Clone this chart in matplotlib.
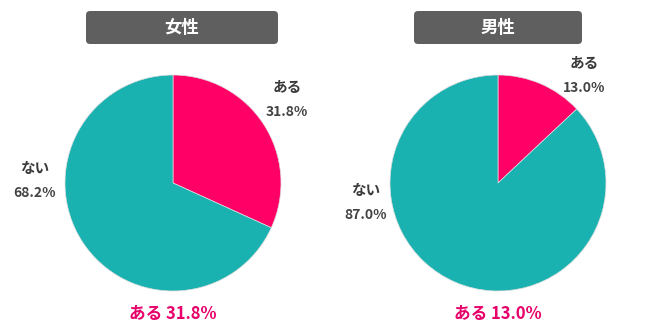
import matplotlib.pyplot as plt
from matplotlib.patches import FancyBboxPatch

plt.rcParams['font.family'] = ['Noto Sans CJK JP', 'DejaVu Sans']

titles = ["女性", "男性"]
labels = ["ある", "ない"]
female = [31.8, 68.2]
male = [13.0, 87.0]
colors = ["#FF0066", "#1AB2B0"]

H = 334
fig = plt.figure(figsize=(6.5, 3.34), dpi=100)
ax = fig.add_axes([0, 0, 1, 1])
ax.set_xlim(0, 650)
ax.set_ylim(0, H)
ax.set_aspect('equal')
ax.axis('off')

def draw(cx, cy, vals, title, box, lab_pos):
    ax.pie(vals, colors=colors, startangle=90, counterclock=False,
           center=(cx, H - cy), radius=108, frame=True,
           wedgeprops=dict(edgecolor='#dddddd', linewidth=0.5))
    # title box
    x0, x1 = box
    ax.add_patch(FancyBboxPatch((x0 + 4, H - 44 + 4), x1 - x0 - 8, 33 - 8,
                                boxstyle="round,pad=4", fc="#5f5f5f", ec="none"))
    ax.text((x0 + x1) / 2, H - 28, title, color="white", fontsize=12.5,
            fontweight="bold", ha="center", va="center")
    for (lx, ly), name, v in zip(lab_pos, labels, vals):
        ax.text(lx, H - ly, name, fontsize=10.5, fontweight="bold", color="#3a3a3a",
                ha="center", va="center")
        ax.text(lx, H - ly - 25, f"{v:.1f}%", fontsize=10, fontweight="bold",
                color="#444444", ha="center", va="center")
    ax.text(cx, H - 314, f"{labels[0]} {vals[0]:.1f}%", fontsize=12, fontweight="bold",
            color="#E8006A", ha="center", va="center")

draw(173, 183, female, titles[0], (86, 278), [(287, 87), (35, 168)])
draw(498, 183, male, titles[1], (414, 582), [(584, 63), (366, 190)])

ax.set_xlim(0, 650)
ax.set_ylim(0, H)
ax.axis('off')
fig.savefig("out.png", dpi=100)
